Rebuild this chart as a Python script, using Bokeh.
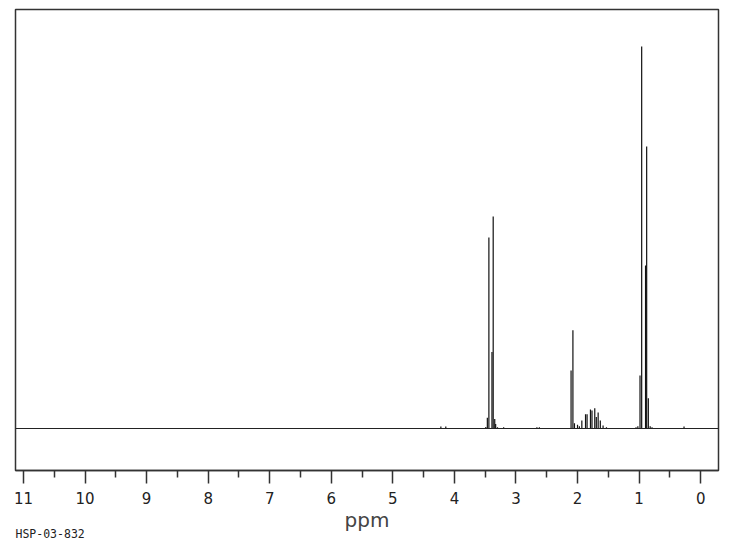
from bokeh.plotting import figure
from bokeh.models import Range1d, FixedTicker, Span, Title, ColumnDataSource
from bokeh.embed import file_html
from bokeh.resources import INLINE

# --- data (ppm, relative intensity; tallest peak = 100) ---
peak_ppm = [4.22, 4.14,
            3.49, 3.465, 3.44, 3.39, 3.37, 3.345, 3.33, 3.30, 3.20,
            2.66, 2.62,
            2.105, 2.075, 2.05, 2.00, 1.97, 1.93, 1.87, 1.845, 1.79, 1.765,
            1.72, 1.695, 1.665, 1.63, 1.585, 1.53,
            1.05, 1.02, 0.985, 0.958, 0.895, 0.877, 0.85, 0.82, 0.79,
            0.27]
peak_int = [0.5, 0.5,
            0.4, 2.8, 50.0, 20.0, 55.5, 2.5, 1.2, 0.3, 0.3,
            0.3, 0.3,
            15.2, 25.7, 1.4, 1.0, 0.6, 2.1, 3.7, 3.7, 5.0, 4.7,
            5.3, 3.0, 4.2, 2.1, 0.8, 0.3,
            0.3, 0.6, 13.9, 100.0, 42.7, 73.8, 7.9, 0.6, 0.3,
            0.5]
major_ticks = [0, 1, 2, 3, 4, 5, 6, 7, 8, 9, 10, 11]
minor_ticks = [0.5, 1.5, 2.5, 3.5, 4.5, 5.5, 6.5, 7.5, 8.5, 9.5, 10.5]
x_title = "ppm"
sample_id = "HSP-03-832"

p = figure(width=736, height=548, output_backend="svg", toolbar_location=None,
           x_range=Range1d(11.13, -0.29), y_range=Range1d(-11.0, 109.7),
           min_border_left=15, min_border_right=18, min_border_top=9,
           min_border_bottom=78, y_axis_location=None)
p.grid.visible = False
p.outline_line_color = "#333333"
p.outline_line_width = 1.5
p.background_fill_color = "white"
p.border_fill_color = "white"

src = ColumnDataSource(dict(x=peak_ppm, y=peak_int, y0=[0] * len(peak_ppm)))
p.segment(x0="x", y0="y0", x1="x", y1="y", source=src,
          line_color="#111111", line_width=1.2)
p.add_layout(Span(location=0, dimension="width", line_color="#222222",
                  line_width=1.2))

ax = p.xaxis[0]
ax.ticker = FixedTicker(ticks=major_ticks, minor_ticks=minor_ticks)
ax.axis_line_color = "#333333"
ax.axis_line_width = 1.5
ax.major_tick_in = 0
ax.major_tick_out = 13
ax.minor_tick_in = 0
ax.minor_tick_out = 7
ax.major_tick_line_color = "#333333"
ax.major_tick_line_width = 1.5
ax.minor_tick_line_color = "#333333"
ax.minor_tick_line_width = 1.5
ax.major_label_text_font = "DejaVu Sans"
ax.major_label_text_font_size = "15px"
ax.major_label_text_color = "#222222"
ax.major_label_standoff = 8
ax.axis_label = x_title
ax.axis_label_text_font = "DejaVu Sans"
ax.axis_label_text_font_size = "20px"
ax.axis_label_text_font_style = "normal"
ax.axis_label_text_color = "#444444"
ax.axis_label_standoff = 1

p.add_layout(Title(text=sample_id, align="left", text_font="DejaVu Sans Mono",
                   text_font_size="11.5px", text_font_style="normal",
                   text_color="#222222", standoff=-16, vertical_align="top"),
             "below")

open("out.html", "w").write(file_html(p, INLINE))
